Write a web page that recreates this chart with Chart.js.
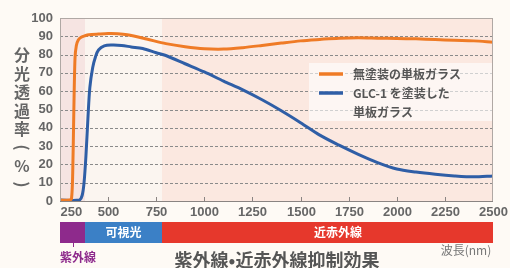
<!DOCTYPE html>
<html>
<head>
<meta charset="utf-8">
<script src="https://cdn.jsdelivr.net/npm/chart.js@4.4.1/dist/chart.umd.min.js"></script>
<style>
  html, body { margin: 0; padding: 0; background: #fefaf5; }
  #wrap { position: relative; width: 510px; height: 268px; overflow: hidden; }
</style>
</head>
<body>
<div id="wrap"><canvas id="mychart" width="510" height="268"></canvas></div>
<script>
// データ
var xTicks = [250, 500, 750, 1000, 1250, 1500, 1750, 2000, 2250, 2500];
var yTicks = [0, 10, 20, 30, 40, 50, 60, 70, 80, 90, 100];

// 無塗装の単板ガラス
var uncoatedNm = [250, 300, 310, 316, 322, 328, 335, 345, 360, 380, 400, 450, 500, 550, 600, 700, 800, 900, 1000, 1100, 1200, 1300, 1400, 1500, 1600, 1700, 1800, 1900, 2000, 2100, 2200, 2300, 2400, 2500];
var uncoatedT  = [0.5, 0.5, 1.5, 15, 50, 78, 85, 88, 89.5, 90.3, 90.8, 91.2, 91.5, 91.4, 90.8, 88.5, 86, 84.3, 83.2, 83, 83.8, 85, 86.3, 87.5, 88.3, 89, 89.2, 89, 88.8, 88.6, 88.2, 87.8, 87.5, 86.8];

// GLC-1 を塗装した単板ガラス
var coatedNm = [250, 350, 365, 375, 385, 395, 405, 420, 435, 450, 480, 520, 570, 620, 680, 750, 800, 900, 1000, 1100, 1200, 1300, 1400, 1500, 1600, 1700, 1800, 1900, 2000, 2100, 2200, 2300, 2400, 2500];
var coatedT  = [0.5, 0.5, 3, 10, 25, 45, 62, 73, 79, 82.5, 84.8, 85.2, 85, 84.2, 83.3, 81, 79.5, 75, 70.5, 65.5, 60.7, 55.3, 49.3, 42.8, 36, 30.5, 25.5, 21, 17.5, 15.8, 14.6, 13.7, 13.2, 13.7];

// 波長帯（紫外線・可視光・近赤外線）
var bandNames = ['紫外線', '可視光', '近赤外線'];
var bandEdges = [250, 380, 780, 2500];
var bandFill  = ['#f6e4e2', '#fbf5f0', '#fbe8e0'];
var bandBar   = ['#8e2a8c', '#3b80c6', '#e6382c'];

var legendNames = ['無塗装の単板ガラス', ['GLC-1 を塗装した', '単板ガラス']];
var lineColors = ['#ef7b26', '#2f5ea6'];

function toPts(xs, ys) {
  var out = [];
  for (var i = 0; i < xs.length; i++) out.push({x: xs[i], y: ys[i]});
  return out;
}

// 背景・帯・文字を描くプラグイン
var decor = {
  id: 'decor',
  beforeDatasetsDraw: function(chart) {
    var c = chart.ctx, a = chart.chartArea, xs = chart.scales.x;
    c.save();
    for (var i = 0; i < 3; i++) {
      var x0 = xs.getPixelForValue(bandEdges[i]);
      var x1 = xs.getPixelForValue(bandEdges[i + 1]);
      c.fillStyle = bandFill[i];
      c.fillRect(x0, a.top, x1 - x0, a.bottom - a.top);
    }
    // 破線グリッド
    var ys = chart.scales.y;
    c.strokeStyle = '#8a8a8a';
    c.lineWidth = 1;
    c.setLineDash([3, 2]);
    for (var j = 1; j < yTicks.length - 1; j++) {
      var y = Math.round(ys.getPixelForValue(yTicks[j])) + 0.5;
      c.beginPath(); c.moveTo(a.left, y); c.lineTo(a.right, y); c.stroke();
    }
    c.setLineDash([]);
    c.restore();
  },
  afterDraw: function(chart) {
    var c = chart.ctx, a = chart.chartArea, xs = chart.scales.x;
    c.save();
    // 枠
    c.strokeStyle = '#b0a8a4';
    c.lineWidth = 1;
    c.strokeRect(a.left + 0.5, a.top + 0.5, a.right - a.left - 1, a.bottom - a.top);
    c.strokeStyle = '#8a8482';
    c.beginPath(); c.moveTo(a.left, a.bottom + 0.5); c.lineTo(a.right, a.bottom + 0.5); c.stroke();

    // 目盛（内側）と横軸ラベル
    c.fillStyle = '#666';
    c.font = 'bold 13px "Liberation Sans", Arial, sans-serif';
    c.textBaseline = 'middle';
    for (var i = 0; i < xTicks.length; i++) {
      var x = Math.round(xs.getPixelForValue(xTicks[i])) + 0.5;
      if (i > 0 && i < xTicks.length - 1) {
        c.beginPath(); c.moveTo(x, a.bottom); c.lineTo(x, a.bottom - 4); c.stroke();
      }
      c.textAlign = i === 0 ? 'left' : 'center';
      c.fillText(String(xTicks[i]), x, 212);
    }

    // 波長帯の色バー
    var barTop = 222, barH = 21;
    for (var b = 0; b < 3; b++) {
      var x0 = xs.getPixelForValue(bandEdges[b]);
      var x1 = xs.getPixelForValue(bandEdges[b + 1]);
      c.fillStyle = bandBar[b];
      c.fillRect(x0, barTop, x1 - x0, barH);
    }
    c.fillStyle = '#fff';
    c.font = 'bold 12px "Noto Sans CJK JP", sans-serif';
    c.textAlign = 'center';
    c.fillText(bandNames[1], (xs.getPixelForValue(380) + xs.getPixelForValue(780)) / 2, barTop + barH / 2);
    c.fillText(bandNames[2], 338, barTop + barH / 2);
    c.fillStyle = '#8e2a8c';
    c.textAlign = 'left';
    c.fillText(bandNames[0], a.left, 257);
    c.strokeStyle = '#8e2a8c';
    c.beginPath(); c.moveTo(73.5, barTop + barH); c.lineTo(73.5, barTop + barH + 4); c.stroke();

    // 下のタイトル
    c.fillStyle = '#555';
    c.font = 'bold 18px "Noto Sans CJK JP", sans-serif';
    c.textAlign = 'center';
    c.fillText('紫外線•近赤外線抑制効果', 277, 260);
    c.font = '12px "Noto Sans CJK JP", sans-serif';
    c.fillStyle = '#777';
    c.fillText('波長(nm)', 466, 250);

    // 縦軸タイトル（縦書き）
    var title = '分光透過率(%)';
    c.fillStyle = '#666';
    c.font = 'bold 16px "Noto Sans CJK JP", sans-serif';
    var ty = 55;
    for (var k = 0; k < title.length; k++) {
      var ch = title[k];
      if (ch === '(' || ch === ')') {
        c.save();
        c.translate(22, ty);
        c.rotate(Math.PI / 2);
        c.fillText(ch, 0, 0);
        c.restore();
      } else {
        c.fillText(ch, 22, ty);
      }
      ty += 18.5;
    }

    // 凡例
    c.fillStyle = 'rgba(255,255,255,0.6)';
    c.fillRect(309, 63, a.right - 310, 58);
    c.lineWidth = 3.5;
    c.strokeStyle = lineColors[0];
    c.beginPath(); c.moveTo(319, 74); c.lineTo(343, 74); c.stroke();
    c.strokeStyle = lineColors[1];
    c.beginPath(); c.moveTo(319, 93); c.lineTo(343, 93); c.stroke();
    c.fillStyle = '#555';
    c.font = 'bold 12px "Noto Sans CJK JP", sans-serif';
    c.textAlign = 'left';
    c.fillText(legendNames[0], 353, 74);
    c.fillText(legendNames[1][0], 353, 93);
    c.fillText(legendNames[1][1], 353, 112);
    c.restore();
  }
};

var ctx = document.getElementById('mychart');
var myChart = new Chart(ctx, {
  type: 'line',
  data: {
    datasets: [{
      label: '無塗装の単板ガラス',
      data: toPts(uncoatedNm, uncoatedT),
      borderColor: lineColors[0],
      borderWidth: 3,
      pointRadius: 0,
      tension: 0.3,
    }, {
      label: 'GLC-1 を塗装した単板ガラス',
      data: toPts(coatedNm, coatedT),
      borderColor: lineColors[1],
      borderWidth: 3,
      pointRadius: 0,
      tension: 0.3,
    }],
  },
  options: {
    responsive: false,
    animation: false,
    layout: { padding: { left: 0, top: 18, right: 17, bottom: 67 } },
    scales: {
      x: {
        type: 'linear',
        min: 250,
        max: 2500,
        ticks: { display: false, stepSize: 250 },
        grid: { display: false, drawTicks: false },
        border: { display: false },
        afterFit: function(s) { s.height = 0; },
      },
      y: {
        min: 0,
        max: 100,
        ticks: {
          stepSize: 10,
          autoSkip: false,
          padding: 7,
          color: '#666',
          font: { family: '"Liberation Sans", Arial, sans-serif', size: 13, weight: 'bold' },
        },
        grid: { display: false, drawTicks: false },
        border: { display: false },
        afterFit: function(s) { s.width = 60; },
      },
    },
    plugins: {
      legend: { display: false },
      tooltip: { enabled: false },
    },
  },
  plugins: [decor],
});
</script>
</body>
</html>
